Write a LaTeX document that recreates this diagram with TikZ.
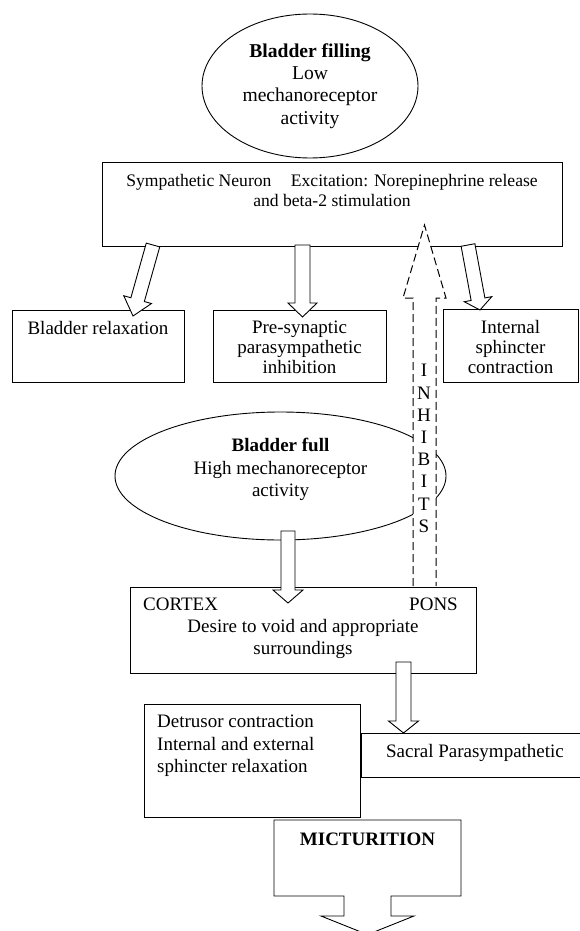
\documentclass[tikz,border=0pt]{standalone}
\usepackage{fontspec}
\setmainfont{Liberation Serif}
\usetikzlibrary{shapes.geometric,calc}
\tikzset{
  box/.style={draw, fill=white, line width=0.9pt, inner sep=0pt, anchor=north west},
  bubble/.style={draw, ellipse, fill=white, line width=0.9pt, inner sep=0pt, align=center,
    font=\fontsize{19.6}{22.3}\selectfont},
  txt/.style={inner sep=0pt, align=center, font=\fontsize{19}{22}\selectfont},
  blockarrow/.style={draw, fill=white, line width=0.9pt, line join=miter},
  dasharrow/.style={draw, fill=white, line width=1pt, dash pattern=on 8pt off 4pt},
}
\newcommand\blockarr[6]{% name, start, tip, shaft half width, head half width, head length
  \coordinate (#1-b) at ($(#3)!#6!(#2)$);
  \draw[blockarrow] ($(#2)!#4!90:(#3)$) -- ($(#1-b)!#4!90:(#3)$) -- ($(#1-b)!#5!90:(#3)$)
    -- (#3) -- ($(#1-b)!#5!-90:(#3)$) -- ($(#1-b)!#4!-90:(#3)$) -- ($(#2)!#4!-90:(#3)$) -- cycle;
}
\begin{document}
\begin{tikzpicture}[x=1pt,y=-1pt]
\useasboundingbox (0,0) rectangle (580,931);
\clip (0,0) rectangle (580,931);

% top ellipse
\node[bubble, minimum width=216pt, minimum height=144pt] (fill) at (310,86)
  {\textbf{Bladder filling}\\Low\\mechanoreceptor\\activity};

% sympathetic box
\node[box, minimum width=460pt, minimum height=84pt] (symp) at (102,162) {};
\node[txt, font=\fontsize{17.6}{19.3}\selectfont] (sympt) at (332,190.6)
  {Sympathetic Neuron\hspace{15pt} Excitation: Norepinephrine release\\and beta-2 stimulation};

% effect boxes
\node[box, minimum width=172pt, minimum height=72pt] (relax) at (12,310) {};
\node[txt] (relaxt) at (98,328) {Bladder relaxation};
\node[box, minimum width=173pt, minimum height=72pt] (presyn) at (213,310) {};
\node[txt, font=\fontsize{19}{20}\selectfont] (presynt) at (299.5,347)
  {Pre-synaptic\\parasympathetic\\inhibition};
\node[box, minimum width=135pt, minimum height=73pt] (intsph) at (443,309) {};
\node[txt, font=\fontsize{19}{20}\selectfont] (intspht) at (510.5,347)
  {Internal\\sphincter\\contraction};

% block arrows from sympathetic box
\coordinate (a1s) at (153,245); \coordinate (a1t) at (133,316);
\coordinate (a2s) at (302.5,245); \coordinate (a2t) at (302.5,317);
\coordinate (a3s) at (468,245); \coordinate (a3t) at (480,310);
\blockarr{a1}{a1s}{a1t}{7pt}{14.4pt}{17pt}
\blockarr{a2}{a2s}{a2t}{7.5pt}{14.5pt}{14pt}
\blockarr{a3}{a3s}{a3t}{7pt}{14pt}{11pt}

% bladder full ellipse
\node[bubble, minimum width=331pt, minimum height=128pt] (full) at (280.5,476) {};
\node[txt, font=\fontsize{19}{22.5}\selectfont] (fullt) at (280.5,469.5)
  {\textbf{Bladder full}\\High mechanoreceptor\\activity};

% dashed inhibits arrow
\draw[dasharrow] (413,586) -- (413,298) -- (403,298) -- (424.5,225) -- (446,298) -- (436,298) -- (436,586);
\node[txt, font=\fontsize{19}{22.2}\selectfont] (inh) at (424,448.5) {I\\N\\H\\I\\B\\I\\T\\S};

% cortex box
\node[box, minimum width=346pt, minimum height=86pt] (cortex) at (130,587) {};
\node[txt, anchor=west] (cort) at (143,604) {CORTEX};
\node[txt, anchor=east] (pons) at (458,604) {PONS};
\node[txt] (desire) at (303,638.5) {Desire to void and appropriate\\surroundings};

\coordinate (a4s) at (288,531); \coordinate (a4t) at (288,603);
\blockarr{a4}{a4s}{a4t}{7pt}{15pt}{13pt}

% sacral and detrusor
\node[box, minimum width=228pt, minimum height=44pt] (sacral) at (361,733) {};
\node[txt] (sacralt) at (475,753) {Sacral Parasympathetic};
\node[box, minimum width=216pt, minimum height=113pt] (detr) at (144,704) {};
\node[txt, align=left, anchor=north west, font=\fontsize{19}{22.5}\selectfont] (detrt) at (157,715)
  {Detrusor contraction\\Internal and external\\sphincter relaxation};

\coordinate (a5s) at (403.5,662); \coordinate (a5t) at (403.5,733);
\blockarr{a5}{a5s}{a5t}{7.5pt}{15pt}{12pt}

% micturition callout
\draw[blockarrow] (274,820) -- (461,820) -- (461,896) -- (391,896) -- (391,916) -- (414,916)
  -- (367.5,934.6) -- (321,916) -- (344,916) -- (344,896) -- (274,896) -- cycle;
\node[txt] (mict) at (367.5,839) {\textbf{MICTURITION}};
\end{tikzpicture}
\end{document}
